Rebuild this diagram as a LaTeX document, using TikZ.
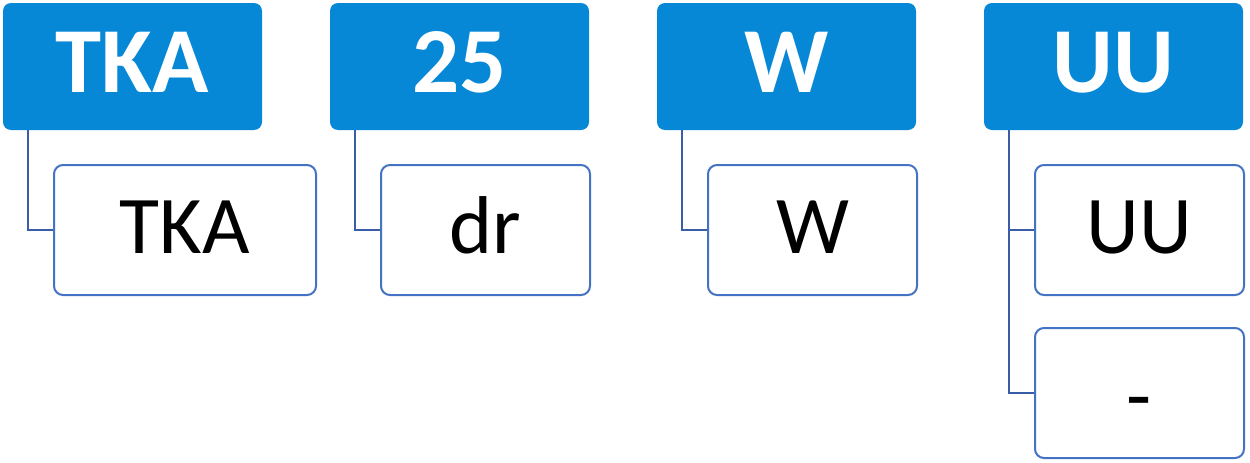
\documentclass[tikz,border=0pt]{standalone}
\usepackage{fontspec}
\setmainfont{Carlito}
\definecolor{parentblue}{RGB}{7,136,214}
\definecolor{childline}{RGB}{68,114,196}
\definecolor{connblue}{RGB}{58,93,168}
\begin{document}
\begin{tikzpicture}[x=1pt,y=-1pt,
  parentbox/.style={fill=parentblue,draw=none,rounded corners=8pt,minimum width=259pt,minimum height=127pt,inner sep=0pt,text=white,text height=65pt,text depth=14pt,font=\fontsize{93}{100}\selectfont\bfseries},
  childbox/.style={fill=white,draw=childline,line width=2pt,rounded corners=9pt,inner sep=0pt,text height=56pt,text depth=10pt,font=\fontsize{82}{90}\selectfont},
  conn/.style={draw=connblue,line width=2pt}]
\useasboundingbox (0,0) rectangle (1250,463);
% parents
\node[parentbox] (p1) at (132.5,66.5) {TKA};
\node[parentbox] (p2) at (459.5,66.5) {25};
\node[parentbox] (p3) at (786.5,66.5) {W};
\node[parentbox] (p4) at (1113.5,66.5) {UU};
% children
\node[childbox,minimum width=262pt,minimum height=130pt] (c1) at (185,230) {TKA};
\node[childbox,minimum width=209pt,minimum height=130pt] (c2) at (485.5,230) {dr};
\node[childbox,minimum width=209pt,minimum height=130pt] (c3) at (812.5,230) {W};
\node[childbox,minimum width=209pt,minimum height=130pt] (c4a) at (1139.5,230) {UU};
\node[childbox,minimum width=209pt,minimum height=130pt] (c4b) at (1139.5,393) {\raisebox{-7pt}{-}};
% connectors
\draw[conn] (p1.south west) ++(25,0) |- (c1.west);
\draw[conn] (p2.south west) ++(25,0) |- (c2.west);
\draw[conn] (p3.south west) ++(25,0) |- (c3.west);
\draw[conn] (p4.south west) ++(25,0) |- (c4a.west);
\draw[conn] (p4.south west) ++(25,0) |- (c4b.west);
\end{tikzpicture}
\end{document}
